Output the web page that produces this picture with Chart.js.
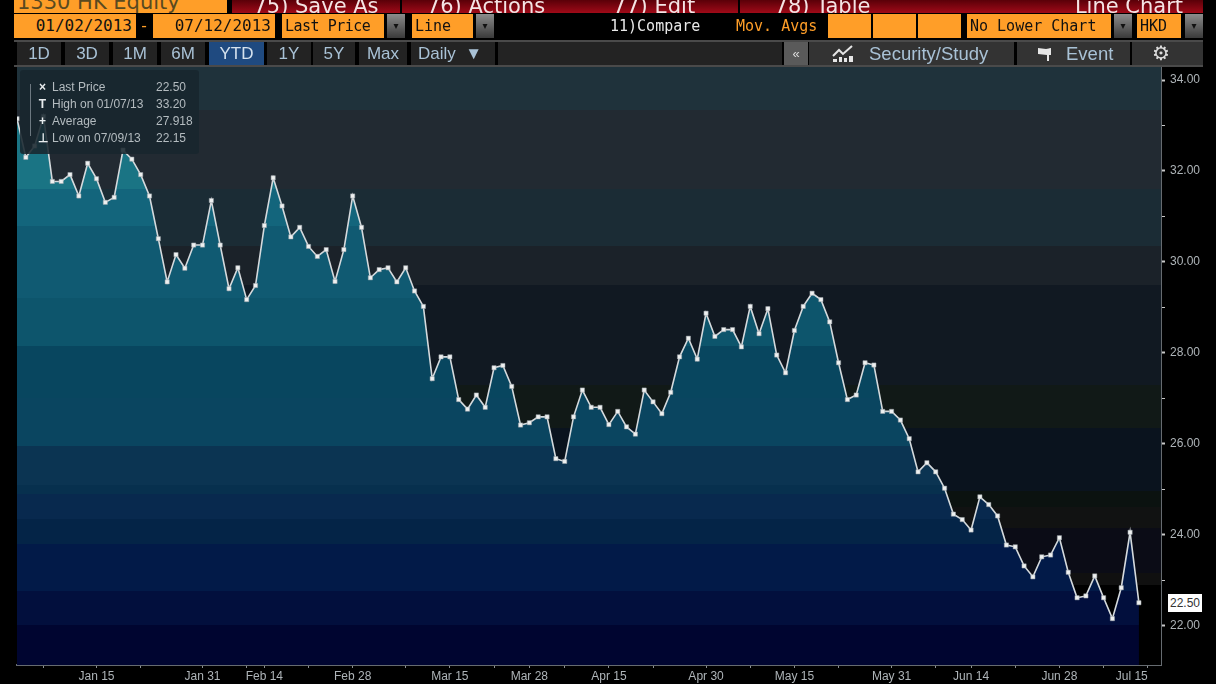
<!DOCTYPE html>
<html lang="en">
<head>
<meta charset="UTF-8">
<title>1330 HK Equity</title>
<script src="https://cdn.jsdelivr.net/npm/chart.js"></script>
<style>
    html, body { margin: 0; padding: 0; background: #000; width: 1216px; height: 684px; overflow: hidden; }
    body { position: relative; font-family: "DejaVu Sans", sans-serif; }
    canvas { position: absolute; left: 0; top: 0; filter: blur(0.45px); }
    .box { position: absolute; box-sizing: border-box; white-space: nowrap; overflow: hidden; }
    .orange { background: #ff9e28; color: #111; font: 15px/24px "DejaVu Sans Mono", monospace; padding-left: 3px; top: 14px; height: 24px; }
    .red { top: 0; height: 13px; background: linear-gradient(#5a0008, #a00a18); color: #f4e4e4; font: 21px/12px "DejaVu Sans", sans-serif; text-align: center; }
    .drop { top: 14px; height: 24px; width: 18px; background: linear-gradient(#8c8c8c, #3a3a3a); color: #111; font: 10px/24px "DejaVu Sans", sans-serif; text-align: center; }
    .tab { top: 42px; height: 23px; background: #232323; color: #a9c2d6; font: 17px/23px "Liberation Sans", sans-serif; text-align: center; }
    .rule { position: absolute; left: 14px; width: 1189px; background: #4a4a4a; }
    .panel { position: absolute; left: 20px; top: 70px; width: 179px; height: 84px; background: rgba(24, 38, 46, 0.88); border-radius: 3px; color: #b4bcc0; font: 12px/17px "Liberation Sans", sans-serif; }
    .panel div { position: absolute; white-space: nowrap; }
    .glyph { left: 18px; width: 9px; text-align: center; color: #e8ecee; font-weight: bold; }
    .tree { left: 10px; top: 14px; width: 4px; height: 52px; border-left: 1px solid #6d7880; }
    .last { position: absolute; left: 1168px; top: 594px; width: 34px; height: 18px; background: #fff; color: #333; font: 12px/18px "Liberation Sans", sans-serif; text-align: center; }
    svg { position: absolute; }
</style>
</head>
<body>
<canvas id="priceChart" width="1216" height="684"></canvas>

<div class="rule" style="top:40px;height:2px;"></div>
<div class="rule" style="top:65px;height:2px;"></div>

<div class="box orange" style="left:14px;top:-4px;width:213px;height:17px;font:21px/13px 'DejaVu Sans',sans-serif;color:#5a4a20;">1330 HK Equity</div>
<div class="box red" style="left:232px;width:168px;">75) Save As</div>
<div class="box red" style="left:402px;width:168px;">76) Actions</div>
<div class="box red" style="left:570px;width:168px;">77) Edit</div>
<div class="box red" style="left:740px;width:165px;">78) Table</div>
<div class="box red" style="left:905px;width:298px;padding-left:150px;">Line Chart</div>

<div class="box orange" style="left:14px;width:122px;text-align:right;padding-right:4px;font-size:16px;">01/02/2013</div>
<div class="box" style="left:136px;top:14px;width:16px;color:#ff9e28;font:16px/24px 'DejaVu Sans Mono',monospace;text-align:center;">-</div>
<div class="box orange" style="left:153px;width:122px;text-align:right;padding-right:4px;font-size:16px;">07/12/2013</div>
<div class="box orange" style="left:282px;width:102px;letter-spacing:-0.5px;">Last Price</div>
<div class="box drop" style="left:387px;">&#9662;</div>
<div class="box orange" style="left:412px;width:61px;">Line</div>
<div class="box drop" style="left:476px;">&#9662;</div>
<div class="box" style="left:610px;top:14px;width:110px;color:#e8e8e8;font:15px/24px 'DejaVu Sans Mono',monospace;">11)Compare</div>
<div class="box" style="left:736px;top:14px;width:90px;color:#ff9e28;font:15px/24px 'DejaVu Sans Mono',monospace;">Mov. Avgs</div>
<div class="box orange" style="left:828px;width:43px;"></div>
<div class="box orange" style="left:873px;width:43px;"></div>
<div class="box orange" style="left:918px;width:43px;"></div>
<div class="box orange" style="left:967px;width:144px;">No Lower Chart</div>
<div class="box drop" style="left:1114px;">&#9662;</div>
<div class="box orange" style="left:1137px;width:44px;">HKD</div>
<div class="box drop" style="left:1185px;">&#9662;</div>

<div class="box tab" style="left:17px;width:44px;">1D</div>
<div class="box tab" style="left:65px;width:44px;">3D</div>
<div class="box tab" style="left:113px;width:44px;">1M</div>
<div class="box tab" style="left:161px;width:44px;">6M</div>
<div class="box tab" style="left:209px;width:55px;background:#1f4a80;color:#d5e2ee;">YTD</div>
<div class="box tab" style="left:267px;width:44px;">1Y</div>
<div class="box tab" style="left:313px;width:42px;">5Y</div>
<div class="box tab" style="left:359px;width:48px;">Max</div>
<div class="box tab" style="left:411px;width:84px;text-align:left;padding-left:7px;">Daily &nbsp;&#9660;</div>
<div class="box tab" style="left:498px;width:284px;"></div>
<div class="box tab" style="left:784px;width:24px;background:#5a5a5a;color:#ddd;font-size:13px;">&laquo;</div>
<div class="box tab" style="left:809px;width:205px;background:#333;text-align:left;padding-left:60px;font-size:18.5px;">Security/Study</div>
<div class="box tab" style="left:1017px;width:113px;background:#333;text-align:left;padding-left:49px;font-size:18.5px;">Event</div>
<div class="box tab" style="left:1132px;width:71px;background:#333;color:#ddd;padding-right:13px;font-size:20px;">&#9881;</div>
<svg style="left:832px;top:44px;" width="22" height="20" viewBox="0 0 22 20"><path d="M1 12 L7 6 L11 10 L20 2" stroke="#e6e6e6" stroke-width="2" fill="none"/><path d="M1 18h4v-3h-4zM7 18h3v-5h-3zM12 18h3v-4h-3zM17 18h4v-6h-4z" fill="#e6e6e6"/></svg>
<svg style="left:1037px;top:46px;" width="16" height="16" viewBox="0 0 16 16"><path d="M1 2 L9 3 L14 2 L14 9 L12 9 L12 15 L10 15 L10 9 L1 8 Z" fill="#e6e6e6"/></svg>

<div class="panel">
    <div class="tree"></div>
    <div class="glyph" style="top:9px;">&times;</div><div style="left:32px;top:9px;">Last Price</div><div style="left:136px;top:9px;">22.50</div>
    <div class="glyph" style="top:26px;">T</div><div style="left:32px;top:26px;">High on 01/07/13</div><div style="left:136px;top:26px;">33.20</div>
    <div class="glyph" style="top:43px;">+</div><div style="left:32px;top:43px;">Average</div><div style="left:136px;top:43px;">27.918</div>
    <div class="glyph" style="top:60px;">&perp;</div><div style="left:32px;top:60px;">Low on 07/09/13</div><div style="left:136px;top:60px;">22.15</div>
</div>
<div class="last">22.50</div>

<script>
    // Дневные цены закрытия
    const prices = [
        33.15, 32.30, 32.55, 33.20, 31.77, 31.77, 31.92, 31.45, 32.17, 31.83,
        31.31, 31.42, 32.46, 32.26, 31.92, 31.45, 30.51, 29.56, 30.16, 29.86,
        30.37, 30.37, 31.35, 30.37, 29.41, 29.87, 29.17, 29.48, 30.80, 31.85,
        31.23, 30.55, 30.76, 30.34, 30.12, 30.27, 29.57, 30.27, 31.45, 30.76,
        29.65, 29.83, 29.87, 29.56, 29.87, 29.36, 29.02, 27.43, 27.91, 27.91,
        26.97, 26.76, 27.07, 26.80, 27.67, 27.72, 27.26, 26.41, 26.46, 26.59,
        26.59, 25.67, 25.61, 26.59, 27.18, 26.80, 26.80, 26.42, 26.71, 26.37,
        26.21, 27.18, 26.92, 26.66, 27.13, 27.91, 28.32, 27.86, 28.87, 28.36,
        28.51, 28.51, 28.13, 29.02, 28.42, 28.97, 27.95, 27.56, 28.49, 29.02,
        29.31, 29.17, 28.68, 27.78, 26.97, 27.07, 27.78, 27.73, 26.71, 26.71,
        26.52, 26.11, 25.38, 25.58, 25.38, 25.02, 24.45, 24.33, 24.10, 24.83,
        24.66, 24.41, 23.77, 23.73, 23.31, 23.07, 23.51, 23.55, 23.93, 23.17,
        22.61, 22.65, 23.09, 22.61, 22.15, 22.83, 24.05, 22.50
    ];

    // Номера торговых дней с мелкими засечками и с подписями
    const xMinorDays = [3, 14, 26, 33, 44, 54, 62, 72, 83, 93, 104, 113, 123];
    const xLabelDays = [9, 21, 28, 38, 49, 58, 67, 78, 88, 99, 108, 118, 128];
    const xLabelTexts = ['Jan 15', 'Jan 31', 'Feb 14', 'Feb 28', 'Mar 15', 'Mar 28', 'Apr 15', 'Apr 30', 'May 15', 'May 31', 'Jun 14', 'Jun 28', 'Jul 15'];
    const yTicks = [22, 23, 24, 25, 26, 27, 28, 29, 30, 31, 32, 33, 34];

    // Полосы фона и заливки: верхняя граница полосы (цена) и цвет
    const bgBandTops = [34.31, 33.35, 31.60, 30.35, 29.50, 27.30, 26.35, 24.95, 24.60, 24.15, 23.15, 22.90];
    const bgBandColors = ['#1f323b', '#222a32', '#1b2c35', '#1b2229', '#111922', '#111917', '#0a131e', '#0b1210', '#111212', '#0b0c16', '#101010', '#000000'];
    const areaBandTops = [34.31, 31.60, 30.80, 29.20, 28.15, 27.00, 25.95, 25.10, 24.90, 24.35, 23.80, 22.75, 22.00];
    const areaBandColors = ['#1a7484', '#13657c', '#105a72', '#0d556c', '#08465f', '#0a4560', '#0b3452', '#07304e', '#08294e', '#042447', '#021a48', '#020f3d', '#000530'];

    const yMin = 21.13;
    const yMax = 34.31;

    function bandGradient(chart, tops, colors) {
        const { ctx, chartArea, scales } = chart;
        if (!chartArea) return null;
        const grad = ctx.createLinearGradient(0, chartArea.top, 0, chartArea.bottom);
        const h = chartArea.bottom - chartArea.top;
        const stop = (v) => Math.min(Math.max((scales.y.getPixelForValue(v) - chartArea.top) / h, 0), 1);
        tops.forEach((top, i) => {
            const next = i + 1 < tops.length ? tops[i + 1] : yMin;
            grad.addColorStop(stop(top), colors[i]);
            grad.addColorStop(stop(next), colors[i]);
        });
        return grad;
    }

    const bandBackground = {
        id: 'bandBackground',
        beforeDatasetsDraw(chart) {
            const { ctx, chartArea } = chart;
            ctx.save();
            ctx.fillStyle = bandGradient(chart, bgBandTops, bgBandColors);
            ctx.fillRect(chartArea.left, chartArea.top, chartArea.right - chartArea.left, chartArea.bottom - chartArea.top);
            ctx.restore();
        }
    };

    const isLabelled = (v) => xLabelDays.includes(v);

    new Chart(document.getElementById('priceChart'), {
        type: 'line',
        data: {
            datasets: [{
                data: prices.map((p, i) => ({ x: i, y: p })),
                borderColor: '#d5dadd',
                borderWidth: 1.6,
                tension: 0,
                pointStyle: 'rect',
                pointRadius: 3,
                pointBackgroundColor: '#eef0f0',
                pointBorderColor: '#9aa3a8',
                pointBorderWidth: 0.5,
                fill: 'start',
                backgroundColor: (c) => bandGradient(c.chart, areaBandTops, areaBandColors) || 'transparent'
            }]
        },
        options: {
            responsive: false,
            animation: false,
            layout: { padding: { left: 17, top: 66, right: 0, bottom: 0 } },
            plugins: { legend: { display: false }, tooltip: { enabled: false } },
            scales: {
                x: {
                    type: 'linear',
                    min: 0,
                    max: 129.5,
                    afterBuildTicks: (axis) => {
                        axis.ticks = [...xMinorDays, ...xLabelDays].sort((a, b) => a - b).map((v) => ({ value: v }));
                    },
                    afterFit: (axis) => { axis.height = 19; },
                    border: { color: '#666b70', width: 2 },
                    grid: { drawOnChartArea: false, tickColor: '#8a8f92', tickLength: 3 },
                    ticks: {
                        autoSkip: false,
                        maxRotation: 0,
                        align: 'inner',
                        padding: 1,
                        color: '#aeb4b8',
                        font: { family: 'Liberation Sans', size: 12 },
                        callback: (v) => (isLabelled(v) ? xLabelTexts[xLabelDays.indexOf(v)] : '')
                    }
                },
                y: {
                    position: 'right',
                    min: yMin,
                    max: yMax,
                    afterBuildTicks: (axis) => { axis.ticks = yTicks.map((v) => ({ value: v })); },
                    afterFit: (axis) => { axis.width = 55; },
                    border: { color: '#666b70', width: 2 },
                    grid: {
                        drawOnChartArea: false,
                        tickLength: 4,
                        tickColor: '#c8c8c8',
                        tickWidth: (c) => (c.tick && c.tick.value % 2 === 0 ? 2 : 1)
                    },
                    ticks: {
                        autoSkip: false,
                        padding: 5,
                        color: '#aeb4b8',
                        font: { family: 'Liberation Sans', size: 12 },
                        callback: (v) => (v % 2 === 0 ? v.toFixed(2) : '')
                    }
                }
            }
        },
        plugins: [bandBackground]
    });
</script>
</body>
</html>
